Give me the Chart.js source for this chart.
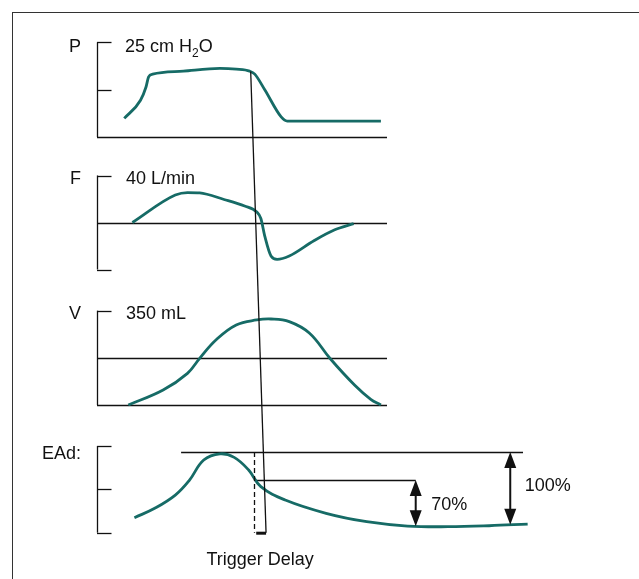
<!DOCTYPE html>
<html>
<head>
<meta charset="utf-8">
<script src="https://cdn.jsdelivr.net/npm/chart.js@4.4.1/dist/chart.umd.min.js"></script>
<style>
  html, body { margin: 0; padding: 0; background: #fff; }
  #wrap { position: relative; width: 639px; height: 579px; overflow: hidden; }
  #frame { position: absolute; left: 12px; top: 12px; width: 700px; height: 700px; border: 1px solid #333; }
  canvas { position: absolute; left: 0; top: 0; }
</style>
</head>
<body>
<div id="wrap">
  <div id="frame"></div>
  <canvas id="vent" width="639" height="579"></canvas>
</div>
<script>
// x = time (s), y = value in the panel's own unit
const pressure = [[0.094, 4.9], [0.150, 9.7], [0.169, 13.2], [0.178, 15.9], [0.192, 16.6], [0.298, 17.4],
  [0.424, 18.1], [0.480, 17.9], [0.526, 17.4], [0.544, 16.6], [0.579, 12.4], [0.635, 5.3], [0.656, 4.2], [0.979, 4.2]];
const flow = [[0.122, 0], [0.270, 23.4], [0.312, 25.5], [0.354, 25.2], [0.438, 19.6], [0.509, 14.0], [0.551, 8.9],
  [0.565, 3.4], [0.579, -12.1], [0.600, -28.5], [0.621, -31.3], [0.663, -28.5], [0.748, -15.5], [0.818, -6.4], [0.885, -1.0]];
const volume = [[0.108, 0], [0.228, 55.7], [0.312, 117.6], [0.354, 173.3], [0.410, 241.3], [0.480, 297], [0.551, 315.6],
  [0.600, 319.3], [0.663, 309.4], [0.733, 266.4], [0.803, 173.6], [0.888, 74.2], [0.944, 21.2], [0.979, 0]];
const ead = [[0.129, 17.3], [0.199, 28.1], [0.270, 43.4], [0.319, 60.7], [0.368, 83.8], [0.424, 91.0], [0.473, 86.9],
  [0.523, 72.3], [0.565, 53.1], [0.649, 37.7], [0.790, 22.4], [0.930, 12.7], [1.071, 7.7], [1.211, 6.9], [1.352, 8.0], [1.485, 10.0]];

const panelLetters = ["P", "F", "V", "EAd:"];
const pTicks = [25, 12.5];
const fTicks = [40, -40];
const vTicks = [350];
const eadTicks = [100, 50, 0];
const vMidLine = 175;
const axisEnd = 1.0;

const eadPeak = 93.1;       // 100% reference
const eadTrigger = 60.8;    // 70% reference
const peakLine = [0.290, 1.469];
const trigLine = [0.542, 1.099];
const arrow70 = [1.099, 7.5];
const arrow100 = [1.425, 9.1];
const trigSlantTop = [0.530, 17.3];   // on P
const trigSlantBottom = [0.583, 0];   // on EAd
const delayBar = [0.549, 0.583];

const teal = "#166b66";
const ink = "#111";
const font = "18px 'Liberation Sans', Arial, sans-serif";

// pixel bands for each panel (layout only)
const area = { left: 97, top: 40, bottom: 540, right: 604.5 };
function band(zeroPx, pxPerUnit) {
  return { type: "linear", display: false,
    min: (zeroPx - area.bottom) / pxPerUnit, max: (zeroPx - area.top) / pxPerUnit };
}

const toXY = arr => arr.map(([x, y]) => ({ x, y }));
function curve(arr, axis, smooth) {
  const ds = { data: toXY(arr), yAxisID: axis, borderColor: teal, borderWidth: 2.8, pointRadius: 0,
    fill: false, clip: false };
  if (smooth) ds.tension = 0.4;
  else ds.cubicInterpolationMode = "monotone";
  return ds;
}

function hline(ctx, chart, axis, v, t0, t1) {
  const x = chart.scales.x, y = chart.scales[axis];
  const py = Math.round(y.getPixelForValue(v)) + 0.5;
  ctx.beginPath();
  ctx.moveTo(x.getPixelForValue(t0), py);
  ctx.lineTo(x.getPixelForValue(t1), py);
  ctx.stroke();
}
function vline(ctx, chart, axis, t, v0, v1) {
  const x = chart.scales.x, y = chart.scales[axis];
  const px = Math.round(x.getPixelForValue(t)) + 0.5;
  ctx.beginPath();
  ctx.moveTo(px, y.getPixelForValue(v0));
  ctx.lineTo(px, y.getPixelForValue(v1));
  ctx.stroke();
}

function bracket(ctx, chart, axis, top, bottom, ticks) {
  vline(ctx, chart, axis, 0, top, bottom);
  ticks.forEach(v => hline(ctx, chart, axis, v, 0, 0.05));
}

function arrowV(ctx, chart, t, vTop, vBottom) {
  const px = chart.scales.x.getPixelForValue(t);
  const y0 = chart.scales.yE.getPixelForValue(vTop);
  const y1 = chart.scales.yE.getPixelForValue(vBottom);
  const hw = 6, hh = 16;
  ctx.lineWidth = 2;
  ctx.beginPath();
  ctx.moveTo(px, y0 + hh - 2);
  ctx.lineTo(px, y1 - hh + 2);
  ctx.stroke();
  ctx.beginPath();
  ctx.moveTo(px, y0); ctx.lineTo(px - hw, y0 + hh); ctx.lineTo(px + hw, y0 + hh); ctx.closePath();
  ctx.moveTo(px, y1); ctx.lineTo(px - hw, y1 - hh); ctx.lineTo(px + hw, y1 - hh); ctx.closePath();
  ctx.fill();
}

const schematic = {
  id: "schematic",
  beforeDatasetsDraw(chart) {
    const ctx = chart.ctx;
    const xs = chart.scales.x;
    ctx.save();
    ctx.strokeStyle = ink;
    ctx.lineWidth = 1.3;
    bracket(ctx, chart, "yP", 25, 0, pTicks);
    hline(ctx, chart, "yP", 0, 0, axisEnd);
    bracket(ctx, chart, "yF", 40, -40, fTicks);
    hline(ctx, chart, "yF", 0, 0, axisEnd);
    bracket(ctx, chart, "yV", 350, 0, vTicks);
    hline(ctx, chart, "yV", vMidLine, 0, axisEnd);
    hline(ctx, chart, "yV", 0, 0, axisEnd);
    bracket(ctx, chart, "yE", 100, 0, eadTicks);
    hline(ctx, chart, "yE", eadPeak, peakLine[0], peakLine[1]);
    hline(ctx, chart, "yE", eadTrigger, trigLine[0], trigLine[1]);

    // labels
    ctx.fillStyle = ink;
    ctx.font = font;
    const x0 = xs.getPixelForValue(0);
    const tops = [["yP", 25, 10], ["yF", 40, 8], ["yV", 350, 8.5], ["yE", 100, 13]];
    tops.forEach(([axis, v, dy], i) => {
      const by = chart.scales[axis].getPixelForValue(v) + dy;
      ctx.textAlign = "right";
      ctx.fillText(panelLetters[i], x0 - 16, by);
    });
    ctx.textAlign = "left";
    let by = chart.scales.yP.getPixelForValue(25) + 10;
    let tx = x0 + 28;
    ctx.fillText("25 cm H", tx, by);
    tx += ctx.measureText("25 cm H").width;
    ctx.font = "12px 'Liberation Sans', Arial, sans-serif";
    ctx.fillText("2", tx, by + 5);
    tx += ctx.measureText("2").width;
    ctx.font = font;
    ctx.fillText("O", tx, by);
    ctx.fillText("40 L/min", x0 + 29, chart.scales.yF.getPixelForValue(40) + 8);
    ctx.fillText("350 mL", x0 + 29, chart.scales.yV.getPixelForValue(350) + 8.5);
    ctx.restore();
  },
  afterDatasetsDraw(chart) {
    const ctx = chart.ctx;
    const xs = chart.scales.x, ye = chart.scales.yE;
    ctx.save();
    ctx.strokeStyle = ink;
    ctx.fillStyle = ink;

    // trigger slant line
    ctx.lineWidth = 1.3;
    ctx.beginPath();
    ctx.moveTo(xs.getPixelForValue(trigSlantTop[0]), chart.scales.yP.getPixelForValue(trigSlantTop[1]));
    ctx.lineTo(xs.getPixelForValue(trigSlantBottom[0]), ye.getPixelForValue(trigSlantBottom[1]));
    ctx.stroke();

    // dashed drop at trigger
    ctx.setLineDash([5, 3]);
    vline(ctx, chart, "yE", trigLine[0], eadPeak, 0);
    ctx.setLineDash([]);
    const bx0 = xs.getPixelForValue(delayBar[0]), bx1 = xs.getPixelForValue(delayBar[1]);
    ctx.fillRect(bx0, ye.getPixelForValue(0) - 1, bx1 - bx0, 3);

    arrowV(ctx, chart, arrow70[0], eadTrigger, arrow70[1]);
    arrowV(ctx, chart, arrow100[0], eadPeak, arrow100[1]);

    ctx.font = font;
    ctx.textAlign = "left";
    const m70 = (ye.getPixelForValue(eadTrigger) + ye.getPixelForValue(arrow70[1])) / 2;
    ctx.fillText("70%", xs.getPixelForValue(arrow70[0]) + 15.5, m70 + 6.5);
    const m100 = (ye.getPixelForValue(eadPeak) + ye.getPixelForValue(arrow100[1])) / 2;
    ctx.fillText("100%", xs.getPixelForValue(arrow100[0]) + 14.5, m100 + 3);
    ctx.textAlign = "center";
    ctx.fillText("Trigger Delay", (bx0 + bx1) / 2 - 1, ye.getPixelForValue(0) + 32);
    ctx.restore();
  }
};

new Chart(document.getElementById("vent"), {
  type: "line",
  data: { datasets: [curve(pressure, "yP", false), curve(flow, "yF", false), curve(volume, "yV", true), curve(ead, "yE", true)] },
  options: {
    responsive: false,
    animation: false,
    devicePixelRatio: 1,
    layout: { padding: { left: area.left, top: area.top, right: 639 - area.right, bottom: 579 - area.bottom } },
    plugins: { legend: { display: false }, tooltip: { enabled: false } },
    scales: {
      x: { type: "linear", display: false, min: 0, max: (area.right - area.left) / 290 },
      yP: band(137, 3.788),
      yF: band(222.5, 1.175),
      yV: band(405, 0.2694),
      yE: band(532.7, 0.867)
    }
  },
  plugins: [schematic]
});
</script>
</body>
</html>
